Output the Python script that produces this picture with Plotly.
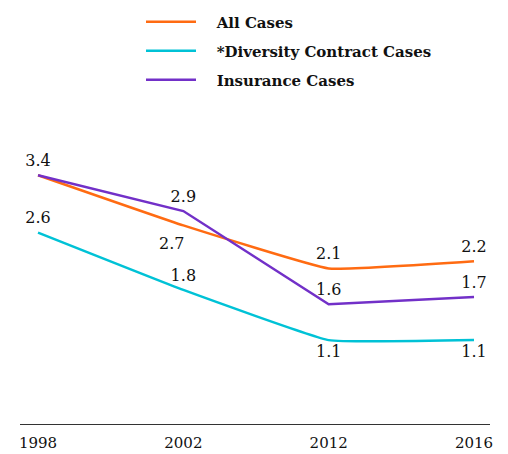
import plotly.graph_objects as go

years = ["1998", "2002", "2012", "2016"]
all_cases = [3.4, 2.7, 2.1, 2.2]
diversity_cases = [2.6, 1.8, 1.1, 1.1]
insurance_cases = [3.4, 2.9, 1.6, 1.7]

all_pos = ["top center", "bottom left", "top center", "top center"]
div_pos = ["top center", "top center", "bottom center", "bottom center"]
ins_pos = ["top center", "top center", "top center", "top center"]

label_font = dict(family="DejaVu Serif", size=16, color="#111111")
legend_font = dict(family="DejaVu Serif", size=15, color="#111111", weight="bold")
pad = "\u00a0\u00a0\u00a0"

W, H = 500, 446
hidden_marker = dict(size=7, color="rgba(0,0,0,0)")

fig = go.Figure()
fig.add_trace(go.Scatter(
    x=years, y=all_cases, name=pad + "All Cases", mode="lines+markers+text",
    text=[f"{v:.1f}" if i not in (0, 1) else "" for i, v in enumerate(all_cases)],
    textposition=all_pos, textfont=label_font, legend="legend",
    marker=hidden_marker,
    line=dict(color="#ff6b12", width=2.5, shape="spline", smoothing=0.3),
))
fig.add_trace(go.Scatter(
    x=years, y=diversity_cases, name=pad + "*Diversity Contract Cases", mode="lines+markers+text",
    text=[f"{v:.1f}" for v in diversity_cases],
    textposition=div_pos, textfont=label_font, legend="legend2",
    marker=hidden_marker,
    line=dict(color="#00c2d6", width=2.5, shape="spline", smoothing=0.3),
))
fig.add_trace(go.Scatter(
    x=years, y=insurance_cases, name=pad + "Insurance Cases", mode="lines+markers+text",
    text=[f"{v:.1f}" for v in insurance_cases],
    textposition=ins_pos, textfont=label_font, legend="legend3",
    marker=hidden_marker,
    line=dict(color="#7230c8", width=2.5),
))

# "2.7" label sits below-left of the All Cases 2002 point (category axis -> index)
fig.add_annotation(
    x=years.index("2002"), y=all_cases[1], text=f"{all_cases[1]:.1f}", showarrow=False,
    xshift=-12, yshift=-18, font=label_font,
)

def leg(ypx):
    return dict(
        x=133 / W, y=1 - ypx / H, xref="container", yref="container",
        xanchor="left", yanchor="middle",
        font=legend_font, bgcolor="rgba(0,0,0,0)", itemwidth=50,
    )

fig.update_layout(
    width=W, height=H,
    margin=dict(l=12, r=18, t=112, b=30, autoexpand=False),
    paper_bgcolor="white", plot_bgcolor="white",
    showlegend=True,
    legend=leg(14),
    legend2=leg(43),
    legend3=leg(72),
    xaxis=dict(
        type="category", range=[-0.124, 3.11],
        showgrid=False, zeroline=False,
        showline=True, linecolor="#333333", linewidth=1.2,
        ticks="", ticklabelstandoff=5,
        tickfont=dict(family="DejaVu Serif", size=15, color="#111111"),
    ),
    yaxis=dict(
        range=[-0.07, 4.17], visible=False, showgrid=False, zeroline=False,
    ),
)

fig.write_html("out.html")
